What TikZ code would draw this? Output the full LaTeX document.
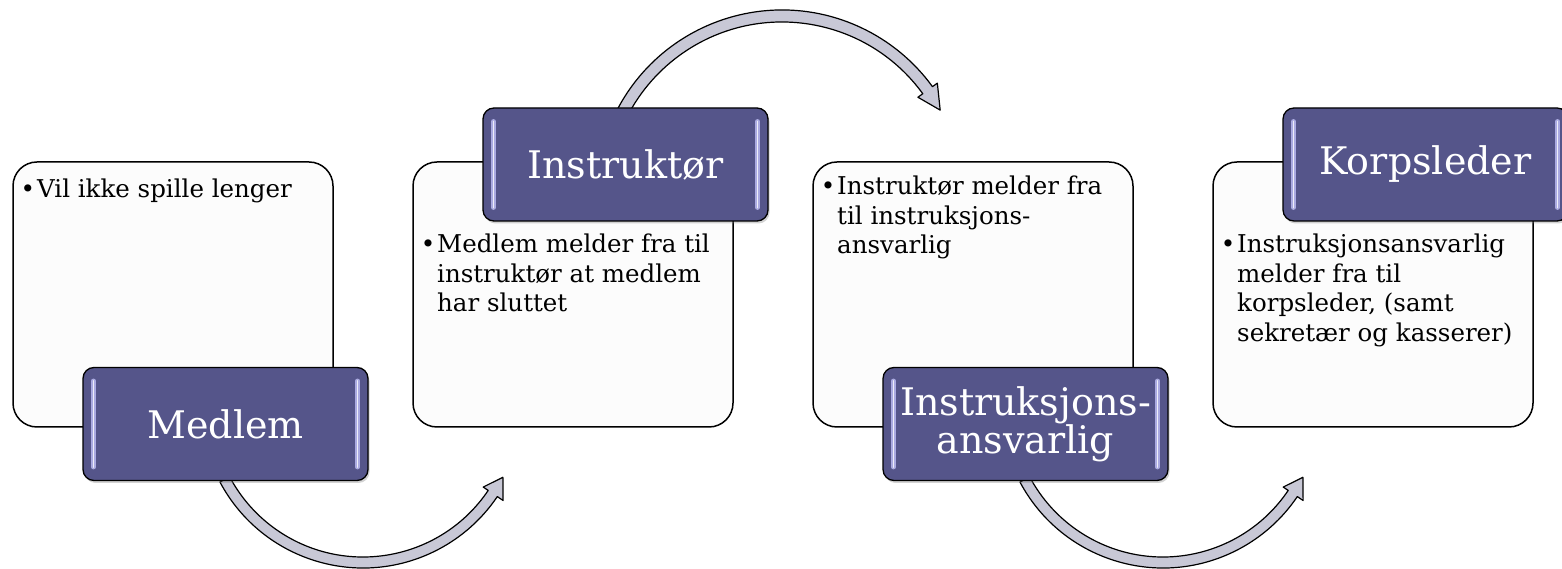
\documentclass[tikz,border=0pt]{standalone}
\usepackage{fontspec}
\setmainfont{DejaVu Serif}
\usetikzlibrary{shadows,calc}
\definecolor{lbl}{RGB}{85,85,138}
\definecolor{arrowfill}{RGB}{200,200,214}
\definecolor{boxfill}{RGB}{252,252,252}
\definecolor{hl}{RGB}{170,170,225}
\newcommand{\bul}{\leavevmode\llap{\textbullet\hspace{2pt}}}
\begin{document}
\begin{tikzpicture}[x=1pt,y=1pt,
  textbox/.style={draw=black, line width=1.5pt, fill=boxfill, rounded corners=24pt, minimum width=320pt, minimum height=265pt, inner sep=0pt},
  labelbox/.style={draw=black, line width=1.3pt, fill=lbl, rounded corners=11pt, minimum width=285pt, minimum height=113pt, inner sep=0pt, text=white, font=\fontsize{38}{35}\selectfont, align=center, drop shadow={shadow xshift=1.5pt, shadow yshift=-2.5pt, opacity=0.35}},
  bodytext/.style={anchor=base west, inner sep=0pt, font=\fontsize{24.5}{29.5}\selectfont},
  flow/.style={draw=black, line width=1.2pt, fill=arrowfill, line join=round},
  shine/.style={line cap=round, line width=4.5pt, draw=hl},
  shinecore/.style={line cap=round, line width=1.5pt, draw=white!80!hl}
]
\useasboundingbox (0,0) rectangle (1562,569);

% text boxes
\node[textbox] (b1) at (173,274.5) {};
\node[textbox] (b2) at (573,274.5) {};
\node[textbox] (b3) at (973,274.5) {};
\node[textbox] (b4) at (1373,274.5) {};

% texts
\node[bodytext] (t1) at (37,371) {\parbox[t]{300pt}{\bul Vil ikke spille lenger}};
\node[bodytext] (t2) at (437,316) {\parbox[t]{300pt}{\bul Medlem melder fra til\\instruktør at medlem\\har sluttet}};
\node[bodytext] (t3) at (837,374) {\parbox[t]{300pt}{\bul Instruktør melder fra\\til instruksjons-\\ansvarlig}};
\node[bodytext] (t4) at (1237,316) {\parbox[t]{300pt}{\bul Instruksjonsansvarlig\\melder fra til\\korpsleder, (samt\\sekretær og kasserer)}};

% arc centres of the curved arrows
\coordinate (c1) at (363,163);
\coordinate (c2) at (782,373);
\coordinate (c3) at (1163,163);

% curved arrows
\path[flow] ([shift={(208:162)}]c1) arc[start angle=208, end angle=326, radius=162]
  -- ([shift={(326:169)}]c1) -- ([shift={(333:157)}]c1) -- ([shift={(326:145)}]c1)
  -- ([shift={(326:151)}]c1) arc[start angle=326, end angle=208, radius=151] -- cycle;
\path[flow] ([shift={(155:186)}]c2) arc[start angle=155, end angle=36, radius=186]
  -- ([shift={(36:192)}]c2) -- ([shift={(28.5:180)}]c2) -- ([shift={(36:168)}]c2)
  -- ([shift={(36:174)}]c2) arc[start angle=36, end angle=155, radius=174] -- cycle;
\path[flow] ([shift={(208:162)}]c3) arc[start angle=208, end angle=326, radius=162]
  -- ([shift={(326:169)}]c3) -- ([shift={(333:157)}]c3) -- ([shift={(326:145)}]c3)
  -- ([shift={(326:151)}]c3) arc[start angle=326, end angle=208, radius=151] -- cycle;

% label boxes
\node[labelbox] (m1) at (225.5,145) {Medlem};
\node[labelbox] (m2) at (625.5,404.5) {Instruktør};
\node[labelbox] (m3) at (1025.5,145) {Instruksjons-\\ansvarlig};
\node[labelbox] (m4) at (1425.5,404.5) {Korpsleder};

\foreach \n in {m1,m2,m3,m4}{
  \draw[shine] ([xshift=11pt,yshift=-14pt]\n.north west) -- ([xshift=11pt,yshift=14pt]\n.south west);
  \draw[shine] ([xshift=-11pt,yshift=-14pt]\n.north east) -- ([xshift=-11pt,yshift=14pt]\n.south east);
  \draw[shinecore] ([xshift=11pt,yshift=-14pt]\n.north west) -- ([xshift=11pt,yshift=14pt]\n.south west);
  \draw[shinecore] ([xshift=-11pt,yshift=-14pt]\n.north east) -- ([xshift=-11pt,yshift=14pt]\n.south east);
}
\end{tikzpicture}
\end{document}
